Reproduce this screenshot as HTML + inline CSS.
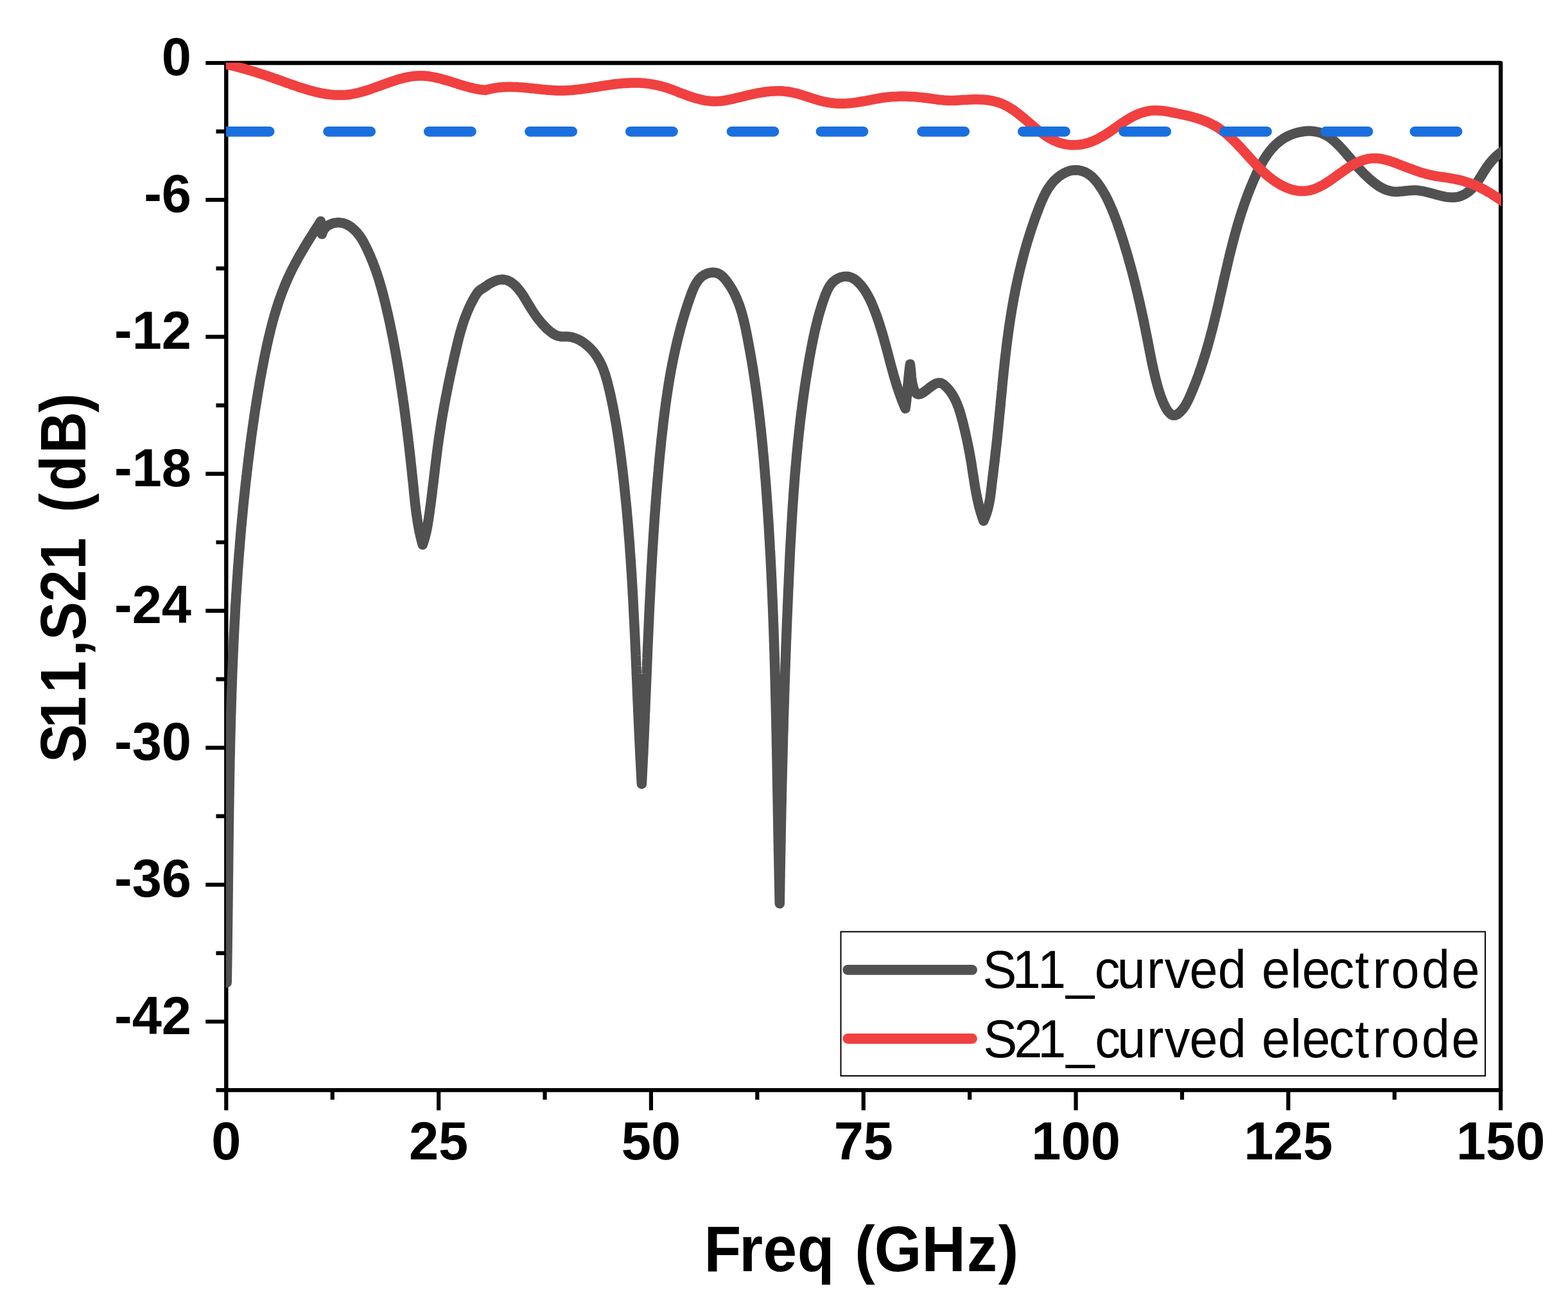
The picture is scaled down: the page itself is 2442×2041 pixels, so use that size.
<!DOCTYPE html>
<html lang="en">
<head>
<meta charset="utf-8">
<title>S11, S21 (dB) vs Freq (GHz)</title>
<style>
html,body{margin:0;padding:0;background:#fff;}
text{font-kerning:none;white-space:pre;}
body{width:2442px;height:2041px;overflow:hidden;}
svg{display:block;}
</style>
</head>
<body>
<svg xmlns="http://www.w3.org/2000/svg" width="2442" height="2041" viewBox="0 0 2442 2041">
<defs><clipPath id="plot"><rect x="352.0" y="97.6" width="1986.0" height="1600.0"/></clipPath></defs>
<rect width="2442" height="2041" fill="#ffffff"/>
<g stroke="#000" fill="none" stroke-linecap="butt">
<rect x="352.30" y="98.00" width="1984.90" height="1599.10" stroke-width="6.40" stroke-linejoin="round"/>
<path d="M352.30 98.00H320.30M352.30 204.61H336.50M352.30 311.21H320.30M352.30 417.82H336.50M352.30 524.43H320.30M352.30 631.03H336.50M352.30 737.64H320.30M352.30 844.25H336.50M352.30 950.85H320.30M352.30 1057.46H336.50M352.30 1164.07H320.30M352.30 1270.67H336.50M352.30 1377.28H320.30M352.30 1483.89H336.50M352.30 1590.49H320.30M352.30 1697.10H336.50M352.30 1697.10V1728.40M517.71 1697.10V1711.90M683.12 1697.10V1728.40M848.53 1697.10V1711.90M1013.93 1697.10V1728.40M1179.34 1697.10V1711.90M1344.75 1697.10V1728.40M1510.16 1697.10V1711.90M1675.57 1697.10V1728.40M1840.97 1697.10V1711.90M2006.38 1697.10V1728.40M2171.79 1697.10V1711.90M2337.20 1697.10V1728.40" stroke-width="6.20"/>
</g>
<g clip-path="url(#plot)" fill="none" stroke-linejoin="round" stroke-linecap="round" stroke-width="15.50">
<path d="M353.2 1530.0L353.3 1526.0 353.3 1522.0 353.4 1518.0 353.5 1514.0 353.5 1510.0 353.6 1506.0 353.7 1502.0 353.7 1498.0 353.8 1494.0 353.8 1490.0 353.9 1486.0 354.0 1482.0 354.0 1478.0 354.1 1474.0 354.1 1470.0 354.2 1466.0 354.2 1462.0 354.3 1458.0 354.3 1454.0 354.4 1450.0 354.4 1446.0 354.5 1442.0 354.5 1438.0 354.6 1434.0 354.6 1430.0 354.7 1426.0 354.7 1422.0 354.8 1418.0 354.8 1414.0 354.9 1410.0 354.9 1406.0 355.0 1402.0 355.0 1398.0 355.1 1394.0 355.1 1390.0 355.2 1386.0 355.2 1382.0 355.2 1378.0 355.3 1374.0 355.3 1370.0 355.4 1366.0 355.4 1362.0 355.5 1358.0 355.5 1354.0 355.6 1350.0 355.6 1346.0 355.6 1342.0 355.7 1338.0 355.7 1334.0 355.8 1330.0 355.8 1326.0 355.9 1322.0 355.9 1318.0 356.0 1314.0 356.0 1310.0 356.1 1306.0 356.1 1302.0 356.2 1298.0 356.2 1294.0 356.3 1290.0 356.3 1286.0 356.4 1282.0 356.4 1278.0 356.5 1274.0 356.5 1270.0 356.6 1266.0 356.6 1262.0 356.7 1258.0 356.8 1254.0 356.8 1250.0 356.9 1246.0 356.9 1242.0 357.0 1238.0 357.1 1234.0 357.1 1230.0 357.2 1226.0 357.3 1222.0 357.3 1218.0 357.4 1214.0 357.5 1210.0 357.5 1206.0 357.6 1202.0 357.7 1198.0 357.8 1194.0 357.8 1190.0 357.9 1186.0 358.0 1182.0 358.1 1178.0 358.2 1174.0 358.3 1170.0 358.3 1166.0 358.4 1162.0 358.5 1158.0 358.6 1154.0 358.7 1150.0 358.8 1146.0 358.9 1142.0 359.0 1138.0 359.1 1134.0 359.2 1130.0 359.3 1126.0 359.4 1122.0 359.5 1118.0 359.6 1114.0 359.8 1110.0 359.9 1106.0 360.0 1102.0 360.1 1098.0 360.2 1094.0 360.4 1090.0 360.5 1086.0 360.6 1082.0 360.7 1078.0 360.9 1074.0 361.0 1070.0 361.2 1066.0 361.3 1062.0 361.4 1058.0 361.6 1054.0 361.7 1050.0 361.9 1046.0 362.0 1042.0 362.2 1038.0 362.4 1034.0 362.5 1030.0 362.7 1026.0 362.9 1022.0 363.0 1018.0 363.2 1014.0 363.4 1010.0 363.6 1006.0 363.7 1002.0 363.9 998.0 364.1 994.0 364.3 990.0 364.5 986.0 364.7 982.0 364.9 978.0 365.1 974.0 365.3 970.0 365.5 966.1 365.8 962.1 366.0 958.1 366.2 954.1 366.4 950.1 366.6 946.1 366.9 942.1 367.1 938.1 367.4 934.1 367.6 930.1 367.8 926.1 368.1 922.1 368.4 918.1 368.6 914.1 368.9 910.1 369.1 906.1 369.4 902.1 369.7 898.2 370.0 894.2 370.2 890.2 370.5 886.2 370.8 882.2 371.1 878.2 371.4 874.2 371.7 870.2 372.0 866.2 372.3 862.2 372.6 858.2 373.0 854.2 373.3 850.3 373.6 846.3 373.9 842.3 374.3 838.3 374.6 834.3 374.9 830.3 375.3 826.3 375.6 822.3 376.0 818.3 376.4 814.4 376.7 810.4 377.1 806.4 377.5 802.4 377.9 798.4 378.2 794.4 378.6 790.4 379.0 786.4 379.4 782.5 379.8 778.5 380.2 774.5 380.7 770.5 381.1 766.5 381.5 762.5 381.9 758.5 382.4 754.6 382.8 750.6 383.3 746.6 383.7 742.6 384.2 738.6 384.6 734.6 385.1 730.7 385.6 726.7 386.0 722.7 386.5 718.7 387.0 714.7 387.5 710.7 388.0 706.8 388.5 702.8 389.0 698.8 389.5 694.8 390.0 690.8 390.6 686.9 391.1 682.9 391.6 678.9 392.2 674.9 392.7 670.9 393.3 667.0 393.8 663.0 394.4 659.0 395.0 655.0 395.6 651.1 396.1 647.1 396.7 643.1 397.3 639.1 397.9 635.2 398.6 631.2 399.2 627.2 399.8 623.3 400.4 619.3 401.1 615.4 401.7 611.4 402.4 607.4 403.1 603.5 403.8 599.6 404.4 595.6 405.1 591.7 405.8 587.7 406.6 583.8 407.3 579.9 408.0 576.0 408.8 572.0 409.5 568.1 410.3 564.2 411.1 560.3 411.8 556.4 412.6 552.5 413.4 548.6 414.3 544.7 415.1 540.9 415.9 537.0 416.8 533.1 417.7 529.3 418.5 525.4 419.5 521.6 420.4 517.7 421.3 513.9 422.3 510.1 423.3 506.2 424.3 502.4 425.3 498.6 426.4 494.8 427.4 491.0 428.6 487.3 429.7 483.5 430.9 479.7 432.1 476.0 433.3 472.2 434.5 468.5 435.8 464.7 437.2 461.0 438.5 457.3 439.9 453.6 441.4 449.9 442.8 446.2 444.3 442.6 445.9 438.9 447.5 435.2 449.1 431.6 450.8 428.0 452.5 424.4 454.3 420.7 456.1 417.1 458.0 413.6 459.8 410.0 461.8 406.4 463.7 402.9 465.7 399.3 467.7 395.8 469.8 392.3 471.8 388.8 473.9 385.3 476.0 381.8 478.1 378.3 480.2 374.9 482.4 371.4 484.5 368.0 486.7 364.6 488.8 361.2 491.0 357.8 493.2 354.4 495.3 351.1 497.4 347.7 499.5 344.4L499.5 344.4L501.4 364.6L501.4 364.6L502.6 360.6 504.6 357.1 507.1 354.1 510.1 351.6 513.5 349.6 517.2 348.1 521.0 347.1 524.9 346.6 528.8 346.6 532.6 347.1 536.4 348.1 540.1 349.5 543.7 351.5 547.2 353.8 550.5 356.6 553.7 359.6 556.6 362.8 559.3 366.1 561.7 369.5 563.9 372.9 565.9 376.4 567.7 379.8 569.5 383.3 571.2 386.8 572.9 390.4 574.5 393.9 576.1 397.5 577.6 401.1 579.1 404.7 580.6 408.3 582.0 412.0 583.4 415.6 584.7 419.3 586.0 423.0 587.3 426.7 588.5 430.5 589.7 434.2 590.9 438.0 592.0 441.8 593.1 445.6 594.2 449.4 595.2 453.2 596.2 457.0 597.3 460.9 598.2 464.7 599.2 468.6 600.2 472.5 601.1 476.4 602.0 480.3 602.9 484.2 603.8 488.1 604.7 492.0 605.6 495.9 606.4 499.9 607.3 503.8 608.1 507.8 608.9 511.7 609.7 515.7 610.5 519.6 611.3 523.6 612.1 527.6 612.8 531.5 613.6 535.5 614.3 539.5 615.1 543.5 615.8 547.4 616.5 551.4 617.2 555.4 617.9 559.3 618.6 563.3 619.3 567.3 619.9 571.2 620.6 575.2 621.2 579.2 621.9 583.2 622.5 587.1 623.1 591.1 623.7 595.1 624.3 599.0 625.0 603.0 625.5 606.9 626.1 610.9 626.7 614.9 627.3 618.8 627.8 622.8 628.4 626.8 629.0 630.7 629.5 634.7 630.0 638.6 630.6 642.6 631.1 646.6 631.6 650.5 632.1 654.5 632.6 658.4 633.1 662.4 633.6 666.3 634.1 670.3 634.6 674.2 635.1 678.2 635.6 682.2 636.0 686.1 636.5 690.1 637.0 694.0 637.4 698.0 637.9 701.9 638.3 705.9 638.7 709.8 639.2 713.8 639.6 717.7 640.0 721.7 640.5 725.6 640.9 729.6 641.3 733.5 641.7 737.5 642.1 741.4 642.5 745.4 643.0 749.3 643.4 753.3 643.8 757.2 644.2 761.2 644.5 765.1 644.9 769.1 645.4 773.0 645.8 777.0 646.2 780.9 646.6 784.9 647.1 788.8 647.6 792.8 648.1 796.7 648.6 800.7 649.2 804.6 649.8 808.5 650.4 812.5 651.1 816.4 651.8 820.4 652.5 824.3 653.3 828.3 654.2 832.2 655.1 836.2 656.1 840.1 657.1 844.1 658.2 848.0L658.2 848.0L659.5 844.1 660.7 840.2 661.8 836.3 662.8 832.4 663.8 828.5 664.6 824.6 665.4 820.7 666.1 816.8 666.7 812.9 667.4 808.9 667.9 805.0 668.5 801.1 669.1 797.1 669.6 793.2 670.1 789.3 670.7 785.3 671.2 781.4 671.7 777.4 672.2 773.5 672.7 769.5 673.2 765.6 673.6 761.6 674.1 757.7 674.6 753.7 675.1 749.7 675.6 745.8 676.0 741.8 676.5 737.8 677.0 733.9 677.4 729.9 677.9 725.9 678.4 722.0 678.9 718.0 679.4 714.0 679.9 710.0 680.4 706.1 680.9 702.1 681.4 698.1 681.9 694.1 682.5 690.2 683.0 686.2 683.6 682.2 684.2 678.2 684.8 674.3 685.4 670.3 686.0 666.3 686.6 662.4 687.2 658.4 687.9 654.4 688.5 650.4 689.2 646.5 689.9 642.5 690.6 638.6 691.3 634.6 692.0 630.6 692.8 626.7 693.5 622.7 694.2 618.8 695.0 614.9 695.8 610.9 696.6 607.0 697.3 603.0 698.1 599.1 698.9 595.2 699.8 591.3 700.6 587.3 701.4 583.4 702.3 579.5 703.1 575.6 704.0 571.7 704.8 567.8 705.7 563.9 706.6 560.0 707.4 556.2 708.3 552.3 709.2 548.4 710.1 544.6 711.0 540.7 711.9 536.9 712.9 533.0 713.8 529.2 714.8 525.4 715.8 521.5 716.8 517.7 717.9 513.9 719.1 510.1 720.2 506.3 721.5 502.5 722.7 498.8 724.1 495.0 725.5 491.3 727.0 487.5 728.5 483.8 730.2 480.0 731.9 476.3 733.7 472.6 735.6 468.9 737.6 465.2 739.7 461.5 741.9 458.0 744.2 454.8 746.8 452.1 749.5 450.3 752.4 448.6 755.6 446.5 759.0 444.1 762.5 441.8 766.1 439.7 769.9 437.9 773.7 436.5 777.5 435.6 781.3 435.1 785.0 435.3 788.6 436.0 792.0 437.3 795.3 439.0 798.4 441.2 801.5 443.7 804.4 446.6 807.2 449.8 809.8 453.1 812.3 456.6 814.8 460.2 817.1 463.9 819.3 467.5 821.5 471.2 823.6 474.6 825.6 478.0 827.7 481.3 829.7 484.5 831.7 487.6 833.8 490.6 836.0 493.7 838.3 496.7 840.7 499.6 843.2 502.7 845.9 505.7 848.8 508.8 851.9 511.9 855.2 514.8 858.6 517.5 862.1 519.9 865.7 521.8 869.4 523.2 873.2 523.9 877.0 524.1 880.8 524.0 884.7 524.1 888.5 524.5 892.3 525.4 896.1 526.6 899.8 528.1 903.4 530.0 906.9 532.1 910.3 534.5 913.6 537.1 916.7 539.8 919.7 542.7 922.5 545.7 925.1 548.8 927.5 551.9 929.7 555.2 931.7 558.5 933.7 561.9 935.4 565.3 937.1 568.8 938.6 572.3 940.0 575.9 941.3 579.6 942.6 583.3 943.7 587.1 944.8 590.8 945.9 594.7 946.9 598.5 947.8 602.4 948.8 606.4 949.7 610.3 950.6 614.3 951.5 618.2 952.3 622.2 953.2 626.3 954.0 630.3 954.8 634.3 955.6 638.3 956.3 642.3 957.1 646.4 957.8 650.4 958.5 654.4 959.2 658.4 959.9 662.4 960.5 666.3 961.2 670.3 961.8 674.3 962.4 678.3 963.0 682.2 963.6 686.2 964.2 690.2 964.7 694.1 965.3 698.1 965.8 702.0 966.3 706.0 966.8 709.9 967.4 713.9 967.8 717.8 968.3 721.8 968.8 725.7 969.3 729.7 969.8 733.7 970.2 737.6 970.7 741.6 971.1 745.5 971.5 749.5 972.0 753.5 972.4 757.4 972.8 761.4 973.2 765.3 973.6 769.3 974.0 773.3 974.4 777.2 974.8 781.2 975.2 785.2 975.6 789.2 976.0 793.1 976.3 797.1 976.7 801.1 977.0 805.1 977.4 809.0 977.7 813.0 978.1 817.0 978.4 821.0 978.7 824.9 979.0 828.9 979.3 832.9 979.7 836.9 980.0 840.9 980.3 844.9 980.6 848.8 980.9 852.8 981.1 856.8 981.4 860.8 981.7 864.8 982.0 868.8 982.3 872.8 982.5 876.8 982.8 880.8 983.0 884.8 983.3 888.7 983.6 892.7 983.8 896.7 984.0 900.7 984.3 904.7 984.5 908.7 984.8 912.7 985.0 916.7 985.2 920.7 985.4 924.7 985.7 928.7 985.9 932.7 986.1 936.7 986.3 940.7 986.5 944.7 986.7 948.7 986.9 952.7 987.1 956.7 987.3 960.7 987.5 964.7 987.7 968.7 987.9 972.7 988.1 976.7 988.3 980.7 988.5 984.7 988.7 988.7 988.9 992.7 989.1 996.7 989.2 1000.7 989.4 1004.7 989.6 1008.7 989.8 1012.7 990.0 1016.8 990.1 1020.8 990.3 1024.8 990.5 1028.8 990.7 1032.8 990.8 1036.8 991.0 1040.8 991.2 1044.8 991.3 1048.8 991.5 1052.8 991.7 1056.8 991.9 1060.8 992.0 1064.8 992.2 1068.8 992.4 1072.8 992.5 1076.8 992.7 1080.8 992.9 1084.8 993.0 1088.8 993.2 1092.8 993.4 1096.8 993.6 1100.8 993.7 1104.8 993.9 1108.8 994.1 1112.8 994.3 1116.8 994.4 1120.8 994.6 1124.8 994.8 1128.8 995.0 1132.8 995.1 1136.8 995.3 1140.8 995.5 1144.8 995.7 1148.8 995.9 1152.8 996.1 1156.8 996.3 1160.8 996.5 1164.8 996.7 1168.8 996.8 1172.8 997.0 1176.7 997.2 1180.7 997.5 1184.7 997.7 1188.7 997.9 1192.7 998.1 1196.7 998.3 1200.7 998.5 1204.7 998.7 1208.6 998.9 1212.6 999.2 1216.6 999.4 1220.6L999.4 1220.6L999.6 1216.6 999.8 1212.6 1000.0 1208.7 1000.2 1204.7 1000.4 1200.7 1000.6 1196.7 1000.8 1192.7 1001.0 1188.7 1001.2 1184.7 1001.4 1180.7 1001.6 1176.8 1001.8 1172.8 1002.0 1168.8 1002.1 1164.8 1002.3 1160.8 1002.5 1156.8 1002.7 1152.8 1002.9 1148.8 1003.1 1144.8 1003.2 1140.8 1003.4 1136.8 1003.6 1132.8 1003.7 1128.8 1003.9 1124.8 1004.1 1120.8 1004.3 1116.8 1004.4 1112.8 1004.6 1108.8 1004.8 1104.8 1004.9 1100.8 1005.1 1096.8 1005.3 1092.8 1005.4 1088.8 1005.6 1084.8 1005.8 1080.8 1005.9 1076.8 1006.1 1072.8 1006.3 1068.8 1006.4 1064.8 1006.6 1060.8 1006.8 1056.8 1006.9 1052.8 1007.1 1048.8 1007.2 1044.8 1007.4 1040.8 1007.6 1036.8 1007.7 1032.8 1007.9 1028.8 1008.1 1024.8 1008.2 1020.8 1008.4 1016.7 1008.6 1012.7 1008.7 1008.7 1008.9 1004.7 1009.1 1000.7 1009.3 996.7 1009.4 992.7 1009.6 988.7 1009.8 984.7 1010.0 980.7 1010.1 976.7 1010.3 972.7 1010.5 968.7 1010.7 964.7 1010.8 960.7 1011.0 956.7 1011.2 952.6 1011.4 948.6 1011.6 944.6 1011.8 940.6 1012.0 936.6 1012.2 932.6 1012.4 928.6 1012.6 924.6 1012.8 920.6 1013.0 916.6 1013.2 912.6 1013.4 908.6 1013.6 904.6 1013.8 900.6 1014.0 896.6 1014.2 892.6 1014.4 888.6 1014.6 884.6 1014.9 880.6 1015.1 876.6 1015.3 872.6 1015.5 868.6 1015.8 864.6 1016.0 860.6 1016.2 856.6 1016.5 852.6 1016.7 848.6 1017.0 844.6 1017.2 840.6 1017.5 836.6 1017.7 832.6 1018.0 828.6 1018.3 824.6 1018.5 820.6 1018.8 816.6 1019.1 812.6 1019.3 808.6 1019.6 804.6 1019.9 800.7 1020.2 796.7 1020.5 792.7 1020.8 788.7 1021.1 784.7 1021.4 780.7 1021.7 776.7 1022.0 772.7 1022.3 768.8 1022.6 764.8 1023.0 760.8 1023.3 756.8 1023.6 752.8 1024.0 748.9 1024.3 744.9 1024.7 740.9 1025.0 736.9 1025.4 732.9 1025.7 729.0 1026.1 725.0 1026.5 721.0 1026.8 717.1 1027.2 713.1 1027.6 709.1 1028.0 705.1 1028.4 701.2 1028.8 697.2 1029.2 693.2 1029.6 689.3 1030.0 685.3 1030.4 681.4 1030.9 677.4 1031.3 673.4 1031.8 669.5 1032.2 665.5 1032.7 661.6 1033.1 657.6 1033.6 653.7 1034.1 649.7 1034.6 645.7 1035.1 641.8 1035.6 637.8 1036.1 633.9 1036.6 629.9 1037.2 626.0 1037.7 622.0 1038.3 618.1 1038.9 614.2 1039.5 610.2 1040.1 606.3 1040.7 602.3 1041.3 598.4 1042.0 594.4 1042.6 590.5 1043.3 586.6 1044.0 582.6 1044.7 578.7 1045.4 574.7 1046.2 570.8 1046.9 566.9 1047.7 562.9 1048.5 559.0 1049.3 555.1 1050.2 551.1 1051.0 547.2 1051.9 543.3 1052.8 539.3 1053.7 535.4 1054.6 531.5 1055.6 527.5 1056.6 523.6 1057.6 519.7 1058.6 515.8 1059.6 511.8 1060.7 507.9 1061.8 504.0 1062.9 500.0 1064.1 496.1 1065.2 492.2 1066.4 488.3 1067.6 484.3 1068.9 480.4 1070.1 476.5 1071.4 472.6 1072.8 468.6 1074.1 464.7 1075.5 460.8 1076.9 456.9 1078.4 453.0 1080.0 449.2 1081.7 445.6 1083.6 442.1 1085.6 438.8 1087.9 435.7 1090.4 432.9 1093.1 430.4 1096.2 428.3 1099.6 426.6 1103.1 425.3 1106.7 424.4 1110.4 424.1 1113.9 424.4 1117.4 425.3 1120.6 426.9 1123.7 429.1 1126.7 431.8 1129.4 434.8 1132.0 438.1 1134.5 441.5 1136.8 445.0 1139.0 448.5 1141.1 452.0 1143.0 455.6 1144.8 459.2 1146.5 462.9 1148.1 466.6 1149.6 470.3 1151.1 474.1 1152.4 477.8 1153.6 481.6 1154.8 485.5 1155.9 489.3 1156.9 493.2 1157.9 497.1 1158.9 501.0 1159.8 504.9 1160.6 508.8 1161.5 512.7 1162.3 516.7 1163.1 520.6 1163.8 524.5 1164.6 528.5 1165.3 532.4 1166.1 536.4 1166.8 540.3 1167.5 544.2 1168.2 548.2 1168.9 552.1 1169.6 556.1 1170.3 560.0 1171.0 564.0 1171.6 567.9 1172.3 571.9 1172.9 575.8 1173.5 579.8 1174.1 583.8 1174.7 587.7 1175.3 591.7 1175.9 595.6 1176.5 599.6 1177.0 603.6 1177.6 607.5 1178.1 611.5 1178.7 615.4 1179.2 619.4 1179.7 623.4 1180.2 627.4 1180.7 631.3 1181.2 635.3 1181.7 639.3 1182.2 643.2 1182.6 647.2 1183.1 651.2 1183.6 655.2 1184.0 659.1 1184.4 663.1 1184.9 667.1 1185.3 671.1 1185.7 675.0 1186.1 679.0 1186.5 683.0 1186.9 687.0 1187.3 691.0 1187.7 694.9 1188.1 698.9 1188.4 702.9 1188.8 706.9 1189.2 710.9 1189.5 714.9 1189.9 718.8 1190.2 722.8 1190.5 726.8 1190.9 730.8 1191.2 734.8 1191.5 738.8 1191.8 742.8 1192.2 746.8 1192.5 750.7 1192.8 754.7 1193.1 758.7 1193.4 762.7 1193.7 766.7 1194.0 770.7 1194.2 774.7 1194.5 778.7 1194.8 782.7 1195.1 786.7 1195.3 790.6 1195.6 794.6 1195.9 798.6 1196.1 802.6 1196.4 806.6 1196.7 810.6 1196.9 814.6 1197.2 818.6 1197.4 822.6 1197.6 826.6 1197.9 830.6 1198.1 834.6 1198.3 838.6 1198.6 842.6 1198.8 846.6 1199.0 850.5 1199.2 854.5 1199.5 858.5 1199.7 862.5 1199.9 866.5 1200.1 870.5 1200.3 874.5 1200.5 878.5 1200.7 882.5 1200.9 886.5 1201.1 890.5 1201.3 894.5 1201.5 898.5 1201.7 902.5 1201.9 906.5 1202.0 910.5 1202.2 914.5 1202.4 918.5 1202.6 922.5 1202.7 926.5 1202.9 930.5 1203.1 934.5 1203.2 938.5 1203.4 942.5 1203.6 946.5 1203.7 950.5 1203.9 954.5 1204.0 958.5 1204.2 962.5 1204.3 966.5 1204.5 970.5 1204.6 974.5 1204.8 978.5 1204.9 982.5 1205.0 986.5 1205.2 990.5 1205.3 994.5 1205.4 998.5 1205.6 1002.5 1205.7 1006.5 1205.8 1010.5 1206.0 1014.5 1206.1 1018.5 1206.2 1022.5 1206.3 1026.5 1206.4 1030.5 1206.6 1034.5 1206.7 1038.5 1206.8 1042.5 1206.9 1046.5 1207.0 1050.5 1207.1 1054.5 1207.2 1058.5 1207.3 1062.5 1207.4 1066.5 1207.5 1070.5 1207.6 1074.5 1207.7 1078.5 1207.8 1082.5 1207.9 1086.5 1208.0 1090.5 1208.1 1094.6 1208.2 1098.6 1208.3 1102.6 1208.4 1106.6 1208.5 1110.6 1208.6 1114.6 1208.7 1118.6 1208.8 1122.6 1208.9 1126.6 1208.9 1130.6 1209.0 1134.6 1209.1 1138.6 1209.2 1142.6 1209.3 1146.6 1209.4 1150.6 1209.4 1154.6 1209.5 1158.6 1209.6 1162.6 1209.7 1166.6 1209.8 1170.6 1209.8 1174.6 1209.9 1178.6 1210.0 1182.6 1210.1 1186.6 1210.1 1190.6 1210.2 1194.6 1210.3 1198.6 1210.4 1202.6 1210.4 1206.6 1210.5 1210.7 1210.6 1214.7 1210.7 1218.7 1210.7 1222.7 1210.8 1226.7 1210.9 1230.7 1210.9 1234.7 1211.0 1238.7 1211.1 1242.7 1211.2 1246.7 1211.2 1250.7 1211.3 1254.7 1211.4 1258.7 1211.4 1262.7 1211.5 1266.7 1211.6 1270.7 1211.7 1274.7 1211.7 1278.7 1211.8 1282.7 1211.9 1286.7 1211.9 1290.7 1212.0 1294.7 1212.1 1298.7 1212.2 1302.7 1212.2 1306.7 1212.3 1310.7 1212.4 1314.7 1212.5 1318.7 1212.5 1322.7 1212.6 1326.7 1212.7 1330.7 1212.8 1334.7 1212.9 1338.7 1212.9 1342.7 1213.0 1346.7 1213.1 1350.7 1213.2 1354.7 1213.3 1358.7 1213.3 1362.7 1213.4 1366.7 1213.5 1370.7 1213.6 1374.7 1213.7 1378.7 1213.8 1382.7 1213.8 1386.7 1213.9 1390.7 1214.0 1394.7 1214.1 1398.7 1214.2 1402.7 1214.3 1406.7L1214.3 1406.7L1214.4 1402.7 1214.4 1398.7 1214.5 1394.7 1214.5 1390.8 1214.6 1386.8 1214.7 1382.8 1214.7 1378.8 1214.8 1374.8 1214.8 1370.8 1214.9 1366.8 1215.0 1362.8 1215.0 1358.8 1215.1 1354.8 1215.2 1350.9 1215.2 1346.9 1215.3 1342.9 1215.4 1338.9 1215.4 1334.9 1215.5 1330.9 1215.6 1326.9 1215.7 1322.9 1215.7 1318.9 1215.8 1314.9 1215.9 1310.9 1216.0 1306.9 1216.0 1302.9 1216.1 1298.9 1216.2 1294.9 1216.3 1290.9 1216.3 1286.9 1216.4 1282.9 1216.5 1278.9 1216.6 1274.9 1216.7 1270.9 1216.7 1266.9 1216.8 1262.9 1216.9 1258.9 1217.0 1254.9 1217.1 1250.9 1217.2 1246.9 1217.3 1242.9 1217.3 1238.9 1217.4 1234.9 1217.5 1230.9 1217.6 1226.9 1217.7 1222.9 1217.8 1218.9 1217.9 1214.9 1218.0 1210.9 1218.1 1206.9 1218.2 1202.9 1218.3 1198.9 1218.4 1194.9 1218.5 1190.9 1218.6 1186.9 1218.7 1182.9 1218.8 1178.9 1218.9 1174.9 1219.0 1170.9 1219.1 1166.9 1219.2 1162.9 1219.3 1158.9 1219.4 1154.9 1219.5 1150.8 1219.6 1146.8 1219.7 1142.8 1219.9 1138.8 1220.0 1134.8 1220.1 1130.8 1220.2 1126.8 1220.3 1122.8 1220.4 1118.8 1220.5 1114.8 1220.7 1110.8 1220.8 1106.8 1220.9 1102.8 1221.0 1098.8 1221.2 1094.8 1221.3 1090.8 1221.4 1086.8 1221.5 1082.7 1221.7 1078.7 1221.8 1074.7 1221.9 1070.7 1222.0 1066.7 1222.2 1062.7 1222.3 1058.7 1222.4 1054.7 1222.6 1050.7 1222.7 1046.7 1222.9 1042.7 1223.0 1038.7 1223.1 1034.7 1223.3 1030.7 1223.4 1026.7 1223.6 1022.7 1223.7 1018.7 1223.9 1014.7 1224.0 1010.7 1224.1 1006.7 1224.3 1002.6 1224.4 998.6 1224.6 994.6 1224.8 990.6 1224.9 986.6 1225.1 982.6 1225.2 978.6 1225.4 974.6 1225.5 970.6 1225.7 966.6 1225.9 962.6 1226.0 958.6 1226.2 954.6 1226.4 950.6 1226.5 946.6 1226.7 942.6 1226.9 938.6 1227.0 934.6 1227.2 930.6 1227.4 926.6 1227.5 922.6 1227.7 918.6 1227.9 914.6 1228.1 910.6 1228.3 906.6 1228.4 902.6 1228.6 898.6 1228.8 894.6 1229.0 890.6 1229.2 886.6 1229.4 882.6 1229.6 878.6 1229.7 874.6 1229.9 870.6 1230.1 866.7 1230.3 862.7 1230.5 858.7 1230.7 854.7 1230.9 850.7 1231.1 846.7 1231.4 842.7 1231.6 838.7 1231.8 834.7 1232.0 830.7 1232.2 826.7 1232.5 822.7 1232.7 818.8 1232.9 814.8 1233.2 810.8 1233.4 806.8 1233.6 802.8 1233.9 798.8 1234.1 794.8 1234.4 790.8 1234.6 786.9 1234.9 782.9 1235.2 778.9 1235.5 774.9 1235.7 770.9 1236.0 766.9 1236.3 763.0 1236.6 759.0 1236.9 755.0 1237.2 751.0 1237.5 747.0 1237.8 743.1 1238.1 739.1 1238.5 735.1 1238.8 731.1 1239.1 727.2 1239.5 723.2 1239.8 719.2 1240.2 715.2 1240.5 711.3 1240.9 707.3 1241.3 703.3 1241.7 699.3 1242.1 695.4 1242.4 691.4 1242.8 687.4 1243.3 683.5 1243.7 679.5 1244.1 675.5 1244.5 671.6 1245.0 667.6 1245.4 663.6 1245.9 659.7 1246.3 655.7 1246.8 651.7 1247.3 647.8 1247.8 643.8 1248.3 639.8 1248.8 635.9 1249.3 631.9 1249.8 628.0 1250.3 624.0 1250.9 620.1 1251.4 616.1 1252.0 612.1 1252.6 608.2 1253.1 604.2 1253.7 600.3 1254.3 596.3 1254.9 592.4 1255.5 588.4 1256.2 584.5 1256.8 580.5 1257.4 576.6 1258.1 572.6 1258.8 568.7 1259.4 564.8 1260.1 560.8 1260.8 556.9 1261.5 552.9 1262.3 549.0 1263.0 545.0 1263.7 541.1 1264.5 537.2 1265.3 533.2 1266.1 529.3 1266.9 525.4 1267.7 521.4 1268.6 517.5 1269.4 513.6 1270.4 509.6 1271.3 505.7 1272.3 501.8 1273.3 497.9 1274.3 493.9 1275.4 490.0 1276.5 486.1 1277.7 482.2 1278.9 478.3 1280.1 474.4 1281.4 470.4 1282.8 466.5 1284.2 462.6 1285.6 458.7 1287.2 454.9 1288.9 451.1 1290.8 447.5 1292.9 444.1 1295.3 441.0 1298.1 438.1 1301.3 435.7 1304.8 433.6 1308.5 432.0 1312.3 430.9 1316.1 430.4 1319.8 430.4 1323.4 431.1 1326.7 432.4 1329.9 434.1 1332.9 436.2 1335.8 438.7 1338.5 441.4 1341.1 444.3 1343.5 447.3 1345.8 450.5 1348.0 453.9 1350.1 457.3 1352.1 460.9 1354.0 464.5 1355.8 468.2 1357.5 472.0 1359.1 475.8 1360.7 479.7 1362.2 483.5 1363.7 487.4 1365.1 491.2 1366.5 495.1 1367.8 499.0 1369.1 502.8 1370.3 506.7 1371.5 510.5 1372.7 514.4 1373.9 518.2 1375.0 522.1 1376.1 525.9 1377.2 529.8 1378.2 533.6 1379.3 537.5 1380.3 541.3 1381.4 545.1 1382.4 549.0 1383.4 552.8 1384.4 556.6 1385.4 560.5 1386.4 564.3 1387.4 568.1 1388.5 571.9 1389.5 575.7 1390.6 579.5 1391.6 583.3 1392.7 587.1 1393.8 590.9 1395.0 594.7 1396.1 598.5 1397.3 602.3 1398.6 606.0 1399.8 609.8 1401.2 613.6 1402.5 617.3 1403.9 621.1 1405.4 624.8 1406.8 628.5 1408.4 632.3 1410.0 636.0L1410.0 636.0L1410.6 631.9 1411.1 627.9 1411.6 623.8 1412.0 619.8 1412.4 615.7 1412.8 611.6 1413.2 607.5 1413.6 603.5 1413.9 599.4 1414.3 595.3 1414.7 591.2 1415.1 587.2 1415.5 583.1 1415.9 579.1 1416.4 575.0 1416.9 570.9 1417.4 566.9L1417.4 566.9L1417.9 570.9 1418.3 574.9 1418.7 578.8 1419.0 582.7 1419.3 586.6 1419.8 590.6 1420.4 594.6 1421.2 598.7 1422.3 603.0 1423.7 607.1 1425.5 610.7 1427.7 613.1 1430.3 613.9 1433.3 613.4 1436.6 611.9 1440.1 609.5 1443.7 606.8 1447.4 603.8 1451.1 601.0 1454.8 598.6 1458.5 596.8 1462.1 596.0 1465.7 596.5 1469.1 598.2 1472.3 600.9 1475.3 603.9 1478.1 607.1 1480.6 610.4 1482.8 613.7 1484.9 617.1 1486.8 620.6 1488.5 624.1 1490.1 627.6 1491.5 631.2 1492.9 634.8 1494.1 638.5 1495.3 642.2 1496.4 646.0 1497.4 649.8 1498.5 653.6 1499.5 657.5 1500.5 661.4 1501.4 665.3 1502.4 669.2 1503.3 673.1 1504.2 677.1 1505.1 681.1 1506.0 685.1 1506.8 689.1 1507.7 693.1 1508.4 697.1 1509.2 701.1 1510.0 705.1 1510.7 709.1 1511.4 713.1 1512.1 717.1 1512.8 721.1 1513.4 725.1 1514.0 729.1 1514.6 733.0 1515.2 737.0 1515.8 740.9 1516.5 744.8 1517.1 748.8 1517.7 752.7 1518.3 756.6 1519.0 760.5 1519.7 764.4 1520.4 768.3 1521.2 772.1 1522.0 776.0 1522.8 779.9 1523.7 783.8 1524.6 787.6 1525.6 791.5 1526.7 795.4 1527.8 799.3 1529.1 803.1 1530.3 807.0 1531.7 810.9L1531.7 810.9L1533.5 807.0 1535.0 803.2 1536.4 799.3 1537.6 795.4 1538.7 791.6 1539.6 787.7 1540.5 783.8 1541.2 779.9 1541.9 776.1 1542.4 772.2 1543.0 768.3 1543.4 764.4 1543.9 760.5 1544.4 756.5 1544.8 752.6 1545.3 748.7 1545.7 744.8 1546.2 740.8 1546.7 736.9 1547.2 733.0 1547.6 729.0 1548.1 725.1 1548.6 721.1 1549.1 717.2 1549.5 713.2 1550.0 709.3 1550.4 705.3 1550.9 701.4 1551.3 697.4 1551.8 693.4 1552.2 689.5 1552.7 685.5 1553.1 681.5 1553.5 677.5 1553.9 673.5 1554.3 669.6 1554.7 665.6 1555.1 661.6 1555.5 657.6 1555.9 653.6 1556.3 649.6 1556.6 645.6 1557.0 641.7 1557.4 637.7 1557.8 633.7 1558.2 629.7 1558.5 625.7 1558.9 621.7 1559.3 617.7 1559.7 613.7 1560.1 609.7 1560.5 605.7 1560.8 601.7 1561.2 597.7 1561.6 593.7 1562.0 589.7 1562.4 585.8 1562.8 581.8 1563.2 577.8 1563.7 573.8 1564.1 569.8 1564.5 565.8 1564.9 561.8 1565.4 557.8 1565.8 553.9 1566.3 549.9 1566.8 545.9 1567.2 541.9 1567.7 538.0 1568.2 534.0 1568.7 530.0 1569.2 526.1 1569.8 522.1 1570.3 518.1 1570.9 514.2 1571.4 510.2 1572.0 506.3 1572.6 502.3 1573.2 498.4 1573.8 494.4 1574.4 490.5 1575.1 486.6 1575.7 482.6 1576.4 478.7 1577.1 474.8 1577.8 470.9 1578.5 466.9 1579.2 463.0 1580.0 459.1 1580.7 455.2 1581.5 451.3 1582.3 447.4 1583.1 443.5 1583.9 439.6 1584.8 435.7 1585.6 431.8 1586.5 427.9 1587.4 424.0 1588.3 420.2 1589.3 416.3 1590.2 412.4 1591.2 408.5 1592.2 404.7 1593.2 400.8 1594.2 397.0 1595.2 393.1 1596.3 389.3 1597.4 385.4 1598.5 381.6 1599.6 377.7 1600.8 373.9 1602.0 370.1 1603.2 366.2 1604.4 362.4 1605.6 358.6 1606.9 354.8 1608.2 351.0 1609.5 347.2 1610.8 343.4 1612.1 339.6 1613.5 335.8 1614.9 332.0 1616.4 328.2 1617.8 324.4 1619.3 320.7 1620.8 316.9 1622.3 313.2 1624.0 309.5 1625.7 305.8 1627.4 302.2 1629.3 298.7 1631.3 295.2 1633.4 291.9 1635.7 288.7 1638.1 285.5 1640.7 282.5 1643.5 279.7 1646.5 277.0 1649.6 274.4 1653.0 272.1 1656.6 270.0 1660.3 268.1 1664.1 266.7 1667.9 265.5 1671.9 264.9 1675.8 264.7 1679.7 265.0 1683.5 265.8 1687.3 267.0 1690.9 268.5 1694.3 270.4 1697.5 272.7 1700.5 275.1 1703.2 277.8 1705.9 280.7 1708.4 283.7 1710.8 286.9 1713.1 290.2 1715.3 293.5 1717.5 297.0 1719.5 300.5 1721.5 304.1 1723.4 307.7 1725.3 311.4 1727.0 315.2 1728.8 318.9 1730.4 322.7 1732.0 326.4 1733.5 330.2 1735.0 333.9 1736.5 337.6 1737.9 341.4 1739.3 345.1 1740.6 348.9 1741.9 352.6 1743.2 356.4 1744.5 360.1 1745.7 363.9 1746.9 367.7 1748.1 371.4 1749.3 375.2 1750.5 379.0 1751.6 382.8 1752.8 386.6 1753.9 390.4 1755.1 394.2 1756.2 398.1 1757.3 401.9 1758.3 405.7 1759.4 409.6 1760.5 413.4 1761.5 417.2 1762.6 421.1 1763.6 425.0 1764.6 428.8 1765.6 432.7 1766.6 436.6 1767.6 440.4 1768.5 444.3 1769.5 448.2 1770.4 452.1 1771.4 456.0 1772.3 459.9 1773.2 463.8 1774.1 467.7 1775.0 471.6 1775.9 475.5 1776.7 479.4 1777.6 483.3 1778.5 487.3 1779.3 491.2 1780.2 495.1 1781.0 499.0 1781.8 502.9 1782.6 506.9 1783.4 510.8 1784.2 514.7 1785.0 518.7 1785.8 522.6 1786.6 526.5 1787.4 530.5 1788.1 534.4 1788.9 538.4 1789.7 542.3 1790.4 546.2 1791.2 550.1 1792.0 554.1 1792.7 558.0 1793.5 561.9 1794.3 565.8 1795.2 569.7 1796.0 573.6 1796.9 577.5 1797.8 581.3 1798.7 585.2 1799.6 589.0 1800.6 592.8 1801.6 596.6 1802.6 600.4 1803.7 604.2 1804.8 607.9 1806.0 611.6 1807.2 615.4 1808.6 619.2 1810.1 623.0 1811.7 626.9 1813.5 630.9 1815.6 634.9 1817.9 638.7 1820.5 642.0 1823.3 644.7 1826.4 646.4 1829.6 646.6 1832.8 645.5 1835.8 643.3 1838.7 640.7 1841.2 637.9 1843.6 634.8 1845.8 631.6 1847.7 628.2 1849.6 624.6 1851.4 621.0 1853.0 617.3 1854.7 613.6 1856.2 609.9 1857.8 606.2 1859.3 602.4 1860.8 598.7 1862.3 594.9 1863.7 591.1 1865.1 587.4 1866.5 583.6 1867.8 579.8 1869.2 576.0 1870.5 572.2 1871.7 568.4 1873.0 564.6 1874.2 560.7 1875.4 556.9 1876.6 553.1 1877.8 549.3 1878.9 545.4 1880.1 541.6 1881.2 537.7 1882.3 533.9 1883.3 530.0 1884.4 526.1 1885.4 522.3 1886.4 518.4 1887.5 514.5 1888.5 510.7 1889.4 506.8 1890.4 502.9 1891.4 499.0 1892.3 495.1 1893.3 491.3 1894.2 487.4 1895.1 483.5 1896.0 479.6 1897.0 475.7 1897.9 471.8 1898.8 467.9 1899.6 464.0 1900.5 460.1 1901.4 456.3 1902.3 452.4 1903.2 448.5 1904.1 444.6 1904.9 440.7 1905.8 436.8 1906.7 432.9 1907.6 429.1 1908.5 425.2 1909.4 421.3 1910.3 417.4 1911.2 413.6 1912.1 409.7 1913.0 405.8 1913.9 402.0 1914.8 398.1 1915.8 394.2 1916.7 390.4 1917.7 386.5 1918.7 382.7 1919.7 378.8 1920.7 375.0 1921.7 371.2 1922.7 367.3 1923.8 363.5 1924.8 359.7 1925.9 355.8 1927.0 352.0 1928.1 348.2 1929.3 344.4 1930.4 340.6 1931.6 336.8 1932.8 333.0 1934.0 329.2 1935.3 325.4 1936.6 321.6 1937.9 317.8 1939.2 314.0 1940.6 310.3 1941.9 306.5 1943.4 302.7 1944.8 299.0 1946.3 295.2 1947.8 291.5 1949.3 287.8 1950.9 284.0 1952.5 280.3 1954.2 276.6 1955.8 272.9 1957.5 269.1 1959.3 265.5 1961.1 261.8 1963.0 258.2 1964.9 254.6 1966.9 251.1 1969.0 247.6 1971.2 244.2 1973.4 240.9 1975.8 237.7 1978.2 234.6 1980.7 231.5 1983.4 228.6 1986.1 225.8 1989.0 223.2 1992.0 220.6 1995.2 218.3 1998.4 216.0 2001.9 214.0 2005.4 212.1 2009.1 210.4 2013.0 208.8 2016.9 207.5 2020.9 206.4 2025.0 205.5 2029.1 204.8 2033.2 204.3 2037.3 204.1 2041.4 204.1 2045.4 204.4 2049.3 205.0 2053.2 205.8 2056.9 206.9 2060.5 208.3 2063.9 209.9 2067.3 211.8 2070.5 213.8 2073.6 216.1 2076.7 218.6 2079.6 221.2 2082.5 223.9 2085.3 226.7 2088.1 229.6 2090.8 232.6 2093.4 235.6 2096.1 238.6 2098.7 241.7 2101.3 244.7 2103.9 247.7 2106.5 250.8 2109.1 253.8 2111.7 256.8 2114.3 259.8 2117.0 262.8 2119.8 265.7 2122.6 268.7 2125.5 271.6 2128.4 274.4 2131.4 277.2 2134.5 280.0 2137.7 282.7 2141.0 285.3 2144.3 287.7 2147.7 290.0 2151.2 292.0 2154.7 293.8 2158.3 295.4 2162.0 296.6 2165.7 297.6 2169.4 298.2 2173.2 298.4 2177.0 298.4 2180.9 298.1 2184.8 297.8 2188.7 297.3 2192.7 296.9 2196.7 296.5 2200.7 296.3 2204.7 296.3 2208.7 296.6 2212.7 297.1 2216.7 297.8 2220.8 298.7 2224.8 299.7 2228.8 300.8 2232.8 301.9 2236.8 303.0 2240.8 304.0 2244.7 305.0 2248.6 305.9 2252.5 306.6 2256.3 307.1 2260.2 307.3 2263.9 307.3 2267.7 307.0 2271.3 306.3 2275.0 305.2 2278.5 303.7 2282.0 301.9 2285.3 299.7 2288.6 297.2 2291.6 294.5 2294.5 291.5 2297.1 288.4 2299.6 285.1 2302.0 281.7 2304.2 278.2 2306.4 274.7 2308.6 271.1 2310.7 267.6 2312.9 264.2 2315.1 260.9 2317.4 257.7 2319.8 254.5 2322.3 251.5 2324.8 248.6 2327.5 245.8 2330.3 243.1 2333.2 240.6 2336.2 238.1 2339.4 235.8 2342.8 233.5 2346.3 231.5 2350.0 229.5" stroke="#515151"/>
<path d="M340.0 97.5L343.9 98.2 347.7 99.0 351.6 99.9 355.4 100.7 359.3 101.6 363.1 102.5 367.0 103.5 370.8 104.5 374.7 105.5 378.5 106.6 382.3 107.6 386.1 108.7 390.0 109.9 393.8 111.0 397.6 112.2 401.4 113.4 405.2 114.6 409.1 115.9 412.9 117.2 416.7 118.4 420.5 119.7 424.3 121.0 428.1 122.4 431.9 123.7 435.8 125.1 439.6 126.4 443.4 127.8 447.2 129.2 451.0 130.5 454.9 131.9 458.7 133.2 462.5 134.5 466.3 135.8 470.2 137.0 474.0 138.2 477.8 139.4 481.7 140.5 485.5 141.6 489.3 142.6 493.2 143.5 497.0 144.4 500.8 145.2 504.7 145.9 508.5 146.5 512.4 147.0 516.2 147.4 520.0 147.8 523.9 148.0 527.7 148.1 531.6 148.1 535.4 147.9 539.3 147.7 543.1 147.3 547.0 146.7 550.8 146.0 554.7 145.2 558.6 144.3 562.4 143.3 566.3 142.2 570.1 141.0 574.0 139.8 577.9 138.5 581.7 137.1 585.6 135.7 589.5 134.3 593.3 132.9 597.2 131.5 601.1 130.1 605.0 128.7 608.8 127.4 612.7 126.1 616.6 124.8 620.4 123.6 624.3 122.6 628.2 121.5 632.1 120.6 635.9 119.8 639.8 119.2 643.7 118.6 647.6 118.2 651.5 118.0 655.3 117.9 659.2 118.1 663.1 118.3 667.0 118.7 670.9 119.3 674.7 120.0 678.6 120.8 682.5 121.6 686.4 122.6 690.3 123.7 694.1 124.8 698.0 125.9 701.9 127.1 705.8 128.3 709.7 129.5 713.5 130.8 717.4 132.0 721.3 133.1 725.2 134.3 729.1 135.4 732.9 136.4 736.8 137.3 740.7 138.2 744.6 138.9 748.4 139.5 752.3 140.0 756.2 140.4L756.2 140.4L760.1 139.3 764.0 138.3 768.0 137.5 771.9 136.9 775.8 136.3 779.8 135.9 783.7 135.6 787.7 135.4 791.6 135.3 795.6 135.3 799.6 135.4 803.6 135.5 807.5 135.8 811.5 136.0 815.5 136.3 819.5 136.7 823.5 137.1 827.5 137.5 831.5 137.9 835.5 138.3 839.5 138.8 843.5 139.2 847.5 139.6 851.5 139.9 855.5 140.2 859.5 140.5 863.5 140.7 867.5 140.9 871.6 141.0 875.6 141.0 879.6 140.9 883.6 140.7 887.6 140.5 891.6 140.2 895.6 139.8 899.6 139.4 903.6 139.0 907.6 138.4 911.6 137.9 915.6 137.3 919.6 136.7 923.6 136.1 927.6 135.5 931.6 134.9 935.5 134.2 939.5 133.6 943.5 133.0 947.5 132.4 951.4 131.8 955.4 131.3 959.3 130.8 963.3 130.4 967.2 130.0 971.1 129.6 975.1 129.4 979.0 129.2 982.9 129.0 986.8 129.0 990.7 129.0 994.6 129.1 998.5 129.3 1002.4 129.5 1006.3 129.9 1010.2 130.4 1014.0 130.9 1017.9 131.6 1021.8 132.3 1025.7 133.2 1029.5 134.1 1033.4 135.2 1037.3 136.4 1041.1 137.7 1045.0 139.0 1048.9 140.4 1052.7 141.9 1056.6 143.4 1060.5 144.9 1064.3 146.4 1068.2 147.8 1072.1 149.3 1076.0 150.6 1079.8 151.9 1083.7 153.1 1087.6 154.1 1091.5 155.1 1095.4 155.9 1099.3 156.6 1103.2 157.1 1107.1 157.4 1111.0 157.7 1114.9 157.7 1118.8 157.5 1122.7 157.2 1126.6 156.7 1130.5 156.2 1134.5 155.4 1138.4 154.6 1142.3 153.8 1146.2 152.8 1150.1 151.9 1154.0 150.9 1158.0 149.9 1161.9 149.0 1165.8 148.0 1169.7 147.1 1173.6 146.3 1177.5 145.5 1181.4 144.7 1185.4 144.1 1189.3 143.5 1193.2 142.9 1197.1 142.5 1201.0 142.1 1204.9 141.9 1208.8 141.8 1212.7 141.7 1216.7 141.8 1220.6 142.1 1224.5 142.5 1228.4 143.0 1232.3 143.7 1236.2 144.5 1240.1 145.4 1244.1 146.5 1248.0 147.7 1251.9 148.9 1255.8 150.1 1259.7 151.4 1263.6 152.7 1267.6 153.9 1271.5 155.1 1275.4 156.3 1279.3 157.3 1283.3 158.2 1287.2 159.0 1291.1 159.7 1295.1 160.3 1299.0 160.7 1302.9 161.0 1306.8 161.2 1310.8 161.3 1314.7 161.2 1318.7 161.1 1322.6 160.8 1326.5 160.4 1330.5 159.9 1334.4 159.4 1338.4 158.7 1342.3 158.0 1346.3 157.3 1350.2 156.6 1354.2 155.8 1358.2 155.1 1362.1 154.3 1366.1 153.6 1370.0 153.0 1374.0 152.3 1378.0 151.8 1382.0 151.3 1385.9 150.9 1389.9 150.6 1393.9 150.4 1397.9 150.2 1401.9 150.1 1405.8 150.1 1409.8 150.1 1413.8 150.2 1417.8 150.4 1421.8 150.6 1425.8 150.8 1429.8 151.2 1433.8 151.6 1437.8 152.0 1441.8 152.5 1445.8 153.0 1449.8 153.5 1453.8 154.1 1457.8 154.7 1461.8 155.2 1465.8 155.6 1469.8 156.0 1473.8 156.2 1477.8 156.4 1481.8 156.4 1485.7 156.4 1489.7 156.2 1493.7 156.0 1497.7 155.8 1501.7 155.6 1505.7 155.4 1509.7 155.1 1513.7 155.0 1517.6 154.8 1521.6 154.8 1525.6 154.9 1529.6 155.0 1533.5 155.3 1537.5 155.8 1541.4 156.3 1545.3 157.0 1549.1 157.9 1552.9 158.9 1556.6 160.1 1560.3 161.5 1563.9 163.1 1567.4 164.8 1570.8 166.7 1574.2 168.8 1577.5 170.9 1580.8 173.2 1584.0 175.6 1587.2 178.1 1590.4 180.7 1593.6 183.3 1596.7 185.9 1599.9 188.6 1603.0 191.3 1606.2 194.0 1609.3 196.6 1612.5 199.3 1615.7 201.9 1618.9 204.4 1622.2 206.8 1625.4 209.2 1628.8 211.5 1632.1 213.6 1635.5 215.6 1639.0 217.5 1642.5 219.2 1646.1 220.7 1649.7 222.1 1653.4 223.2 1657.2 224.2 1661.0 224.9 1664.9 225.4 1668.8 225.7 1672.7 225.8 1676.6 225.6 1680.6 225.3 1684.5 224.8 1688.4 224.0 1692.2 223.1 1696.1 221.9 1699.8 220.6 1703.6 219.1 1707.2 217.4 1710.9 215.6 1714.5 213.6 1718.0 211.6 1721.6 209.4 1725.0 207.2 1728.5 204.9 1731.9 202.6 1735.3 200.2 1738.6 197.9 1742.0 195.5 1745.3 193.2 1748.6 190.9 1752.0 188.7 1755.4 186.5 1758.8 184.5 1762.2 182.5 1765.7 180.7 1769.2 179.0 1772.8 177.5 1776.4 176.1 1780.1 174.9 1783.8 173.9 1787.6 173.1 1791.4 172.4 1795.3 172.0 1799.2 171.9 1803.1 171.9 1807.0 172.2 1811.0 172.6 1815.0 173.2 1819.0 173.9 1823.0 174.6 1827.0 175.4 1831.0 176.2 1835.1 177.0 1839.1 177.8 1843.1 178.7 1847.1 179.6 1851.0 180.6 1855.0 181.6 1858.9 182.6 1862.8 183.7 1866.6 184.9 1870.4 186.2 1874.1 187.5 1877.8 189.0 1881.5 190.5 1885.0 192.2 1888.6 193.9 1892.0 195.8 1895.4 197.8 1898.7 199.9 1901.9 202.1 1905.0 204.5 1908.2 206.9 1911.2 209.4 1914.2 212.0 1917.1 214.7 1920.0 217.5 1922.9 220.3 1925.7 223.1 1928.5 226.1 1931.3 229.0 1934.1 232.0 1936.8 235.0 1939.5 238.0 1942.2 241.0 1944.9 244.0 1947.6 247.0 1950.4 250.0 1953.1 253.0 1955.8 256.0 1958.6 258.9 1961.4 261.7 1964.3 264.6 1967.2 267.3 1970.1 270.0 1973.1 272.7 1976.2 275.3 1979.3 277.7 1982.5 280.1 1985.8 282.4 1989.2 284.6 1992.7 286.7 1996.2 288.7 1999.9 290.5 2003.6 292.2 2007.3 293.6 2011.1 294.9 2014.9 295.9 2018.7 296.7 2022.6 297.3 2026.4 297.5 2030.3 297.5 2034.1 297.2 2037.9 296.6 2041.7 295.8 2045.4 294.7 2049.1 293.4 2052.8 291.9 2056.3 290.1 2059.9 288.2 2063.4 286.2 2066.8 284.0 2070.3 281.8 2073.7 279.4 2077.1 277.0 2080.5 274.6 2083.9 272.1 2087.3 269.7 2090.7 267.3 2094.1 264.9 2097.6 262.5 2101.1 260.3 2104.6 258.2 2108.1 256.1 2111.7 254.2 2115.2 252.5 2118.8 250.9 2122.4 249.6 2126.1 248.4 2129.7 247.5 2133.4 246.9 2137.1 246.5 2140.8 246.4 2144.6 246.5 2148.3 246.9 2152.1 247.5 2155.9 248.3 2159.7 249.3 2163.5 250.4 2167.4 251.6 2171.2 253.0 2175.1 254.4 2178.9 255.9 2182.8 257.4 2186.7 258.9 2190.6 260.4 2194.5 261.9 2198.4 263.3 2202.3 264.8 2206.2 266.2 2210.1 267.5 2214.0 268.8 2218.0 269.9 2221.9 271.0 2225.8 272.0 2229.7 272.8 2233.6 273.6 2237.5 274.3 2241.4 274.9 2245.2 275.5 2249.1 276.0 2253.0 276.6 2256.8 277.2 2260.7 277.8 2264.5 278.5 2268.3 279.3 2272.1 280.1 2275.9 281.1 2279.7 282.1 2283.4 283.3 2287.2 284.5 2290.9 285.8 2294.6 287.3 2298.3 288.8 2301.9 290.4 2305.5 292.2 2309.1 294.0 2312.7 295.9 2316.2 297.9 2319.8 300.0 2323.3 302.2 2326.7 304.4 2330.1 306.6 2333.5 308.9 2336.9 311.2 2340.2 313.4 2343.5 315.7 2346.8 317.9 2350.0 320.0" stroke="#f14040"/>
<path d="M352.2 204.8H419.6M511.1 204.8H577.2M667.8 204.8H734.0M825.0 204.8H891.2M981.8 204.8H1048.0M1139.5 204.8H1205.5M1278.5 204.8H1344.5M1436.0 204.8H1502.2M1592.8 204.8H1659.0M1750.0 204.8H1816.2M1906.8 204.8H1973.0M2064.4 204.8H2130.6M2203.4 204.8H2269.6" stroke="#1a6fdf" stroke-width="15.70"/>
</g>
<g font-family="'Liberation Sans', Arial, sans-serif" font-weight="bold" fill="#000">
<g font-size="83.00" text-anchor="end">
<text x="298.0" y="117.0">0</text>
<text x="298.0" y="330.2">-6</text>
<text x="298.0" y="543.4">-12</text>
<text x="298.0" y="756.6">-18</text>
<text x="298.0" y="969.9">-24</text>
<text x="298.0" y="1183.1">-30</text>
<text x="298.0" y="1396.3">-36</text>
<text x="298.0" y="1609.5">-42</text>
</g>
<g font-size="83.00" text-anchor="middle">
<text x="352.3" y="1805.0">0</text>
<text x="683.1" y="1805.0">25</text>
<text x="1013.9" y="1805.0">50</text>
<text x="1344.8" y="1805.0">75</text>
<text x="1675.6" y="1805.0">100</text>
<text x="2006.4" y="1805.0">125</text>
<text x="2337.2" y="1805.0">150</text>
</g>
<text transform="translate(0 1978.9) scale(0.9500 1)" x="1154.2 1211.9 1251.0 1307.2 1368.0 1401.3 1433.3 1511.0 1585.1 1636.7" y="0" font-size="99.60">Freq (GHz)</text>
<text transform="translate(133.3 1180.7) rotate(-90) scale(0.9000 1)" x="-7.0 52.2 113.2 176.9 204.6 270.8 326.5 381.8 425.5 462.9 527.6 598.4" y="0" font-size="99.60">S11,S21 (dB)</text>
</g>
<rect x="1309.5" y="1450.5" width="1003.6" height="224.4" fill="#fff" stroke="#000" stroke-width="2"/>
<g stroke-width="15.50" stroke-linecap="round" fill="none">
<path d="M1320.3 1509.9H1514" stroke="#515151" stroke-width="15.9"/>
<path d="M1320.3 1617.0H1514" stroke="#f14040" stroke-width="15.9"/>
</g>
<g font-family="'Liberation Sans', Arial, sans-serif" font-size="82.50" fill="#000">
<text transform="translate(0 1538.3) scale(0.9600 1)" x="1594.4 1642.4 1683.3 1729.4 1775.7 1812.3 1860.5 1889.2 1929.6 1975.7 2021.6 2046.9 2093.2 2112.2 2155.7 2198.3 2226.9 2256.8 2306.3 2354.6" y="0">S11_curved electrode</text>
<text transform="translate(0 1645.6) scale(0.9600 1)" x="1595.3 1645.3 1683.7 1729.8 1776.2 1812.8 1860.5 1889.2 1929.6 1975.7 2021.6 2046.9 2093.2 2112.2 2155.7 2198.3 2226.9 2256.8 2306.3 2354.6" y="0">S21_curved electrode</text>
</g>
</svg>
</body>
</html>
